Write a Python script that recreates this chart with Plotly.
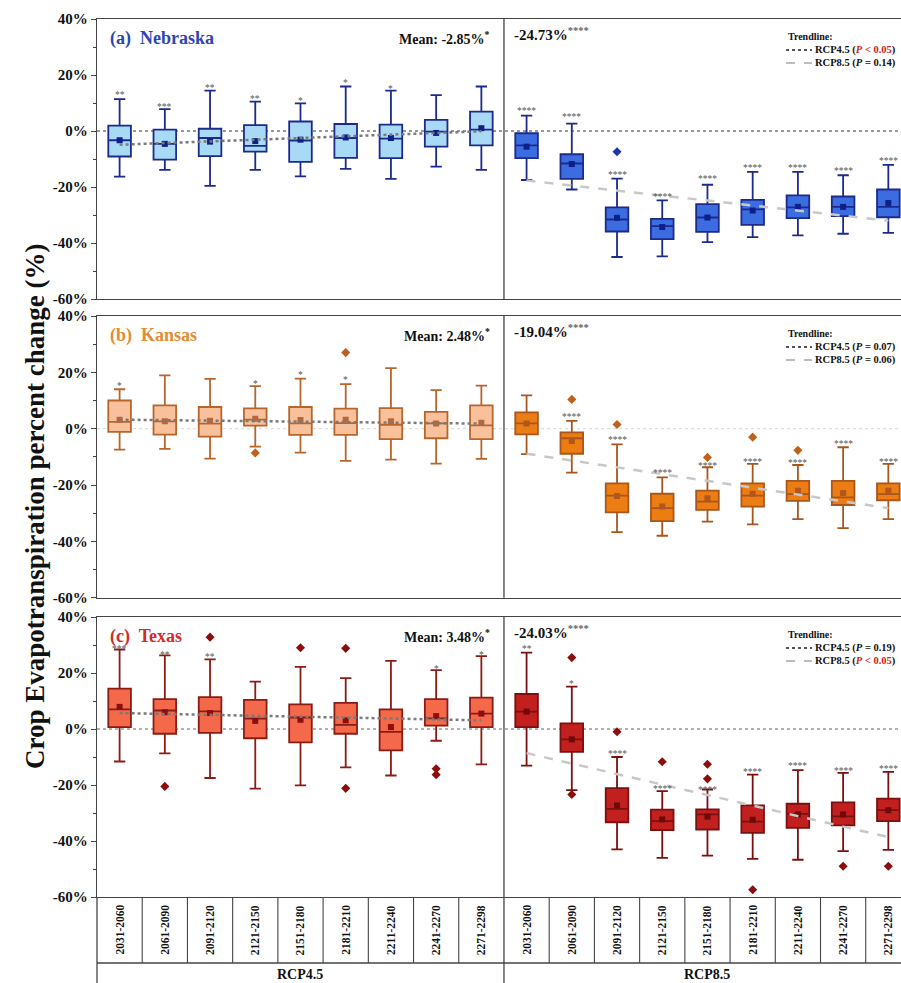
import plotly.graph_objects as go

# ---------------- data ----------------
periods = ["2031-2060", "2061-2090", "2091-2120", "2121-2150", "2151-2180",
           "2181-2210", "2211-2240", "2241-2270", "2271-2298"]
scenarios = ["RCP4.5", "RCP8.5"]
states = ["Nebraska", "Kansas", "Texas"]
panel_tags = ["(a)", "(b)", "(c)"]

# Nebraska (18 boxes: 9 RCP4.5 then 9 RCP8.5)
ne_lower = [-16.3, -13.9, -19.6, -13.9, -16.2, -13.5, -17.1, -12.7, -13.9,
            -17.5, -20.9, -45.0, -44.8, -39.7, -37.9, -37.3, -36.7, -36.4]
ne_q1 = [-9.1, -10.2, -9.0, -7.4, -11.0, -9.6, -9.7, -5.6, -5.1,
         -9.7, -17.1, -35.9, -38.6, -36.0, -33.5, -31.1, -30.4, -30.8]
ne_median = [-3.3, -4.6, -2.5, -5.3, -3.4, -2.5, -2.7, -0.2, 0.5,
             -5.1, -11.6, -31.6, -34.0, -30.9, -28.0, -27.3, -27.1, -27.1]
ne_q3 = [1.9, 0.5, 0.8, 2.1, 3.4, 2.5, 2.3, 4.0, 6.9,
         -0.8, -8.3, -27.3, -31.4, -26.1, -24.6, -23.0, -23.4, -20.9]
ne_upper = [11.4, 7.8, 14.4, 10.5, 9.9, 15.9, 14.4, 12.8, 15.9,
            5.5, 2.6, -17.0, -24.8, -19.2, -14.6, -14.6, -15.8, -12.1]
ne_mean = [-3.3, -4.6, -3.8, -3.6, -3.1, -2.3, -2.5, -0.7, 1.0,
           -5.6, -11.8, -31.0, -34.3, -30.9, -28.4, -27.1, -27.1, -25.7]
ne_stars = ["**", "***", "**", "**", "*", "*", "*", "", "",
            "****", "****", "****", "****", "****", "****", "****", "****", "****"]
ne_star_y = [13.4, 9.4, 16.0, 12.0, 11.3, 17.7, 15.8, None, None,
             7.7, 5.6, -14.9, -22.9, -16.6, -12.6, -12.6, -13.4, -9.9]
ne_out_idx = [11]
ne_out_val = [-7.4]
ne_trend45 = [-4.9, -0.1]
ne_trend85 = [-17.7, -32.0]
ne_mean45 = "-2.85%"
ne_mean85 = "-24.73%"
ne_p45 = "P < 0.05"
ne_p85 = "P = 0.14"

# Kansas
ks_lower = [-7.4, -7.2, -10.6, -6.4, -8.5, -11.4, -11.0, -12.4, -10.7,
            -9.0, -15.6, -36.7, -38.0, -33.0, -34.0, -32.1, -35.3, -32.1]
ks_q1 = [-1.1, -2.1, -2.8, 1.1, -2.2, -2.2, -3.7, -3.4, -3.7,
         -2.0, -8.9, -29.7, -32.8, -28.8, -27.7, -25.6, -27.1, -25.4]
ks_median = [2.4, 2.6, 1.8, 3.2, 1.9, 2.0, 1.4, 1.9, 1.2,
             1.9, -3.4, -23.8, -28.2, -25.9, -23.8, -23.2, -24.4, -23.2]
ks_q3 = [10.0, 8.3, 7.7, 7.2, 7.7, 7.1, 7.3, 6.0, 8.3,
         5.8, -1.3, -19.4, -23.1, -22.0, -19.4, -18.5, -18.5, -19.4]
ks_upper = [14.0, 18.9, 17.7, 15.1, 17.8, 15.8, 21.5, 13.7, 15.3,
            11.8, 2.8, -5.6, -17.3, -13.7, -12.5, -12.9, -6.6, -12.5]
ks_mean = [3.2, 2.6, 2.8, 3.5, 3.1, 3.2, 2.6, 1.8, 2.1,
           1.8, -4.4, -23.9, -27.6, -24.7, -23.1, -22.0, -22.8, -22.0]
ks_stars = ["*", "", "", "*", "*", "*", "", "", "",
            "", "****", "****", "****", "****", "****", "****", "****", "****"]
ks_star_y = [15.9, None, None, 16.6, 19.7, 17.9, None, None, None,
             None, 4.9, -3.2, -14.9, -12.7, -11.1, -11.5, -4.9, -11.0]
ks_out_idx = [3, 5, 10, 11, 13, 14, 15]
ks_out_val = [-8.6, 27.0, 10.4, 1.5, -10.2, -3.0, -7.7]
ks_trend45 = [3.2, 1.8]
ks_trend85 = [-8.9, -28.2]
ks_mean45 = "2.48%"
ks_mean85 = "-19.04%"
ks_p45 = "P = 0.07"
ks_p85 = "P = 0.06"

# Texas
tx_lower = [-11.6, -8.7, -17.5, -21.3, -20.1, -13.7, -16.6, -4.2, -12.6,
            -13.1, -21.8, -43.0, -46.0, -45.2, -46.4, -46.7, -43.6, -43.2]
tx_q1 = [0.7, -1.7, -1.4, -3.3, -4.8, -1.7, -7.6, 1.2, 0.7,
         0.7, -8.2, -33.3, -36.1, -35.9, -37.1, -35.3, -34.4, -32.9]
tx_median = [7.0, 6.6, 6.3, 3.7, 4.1, 1.5, -1.0, 3.8, 5.5,
             6.2, -3.7, -28.5, -32.9, -30.5, -33.1, -30.3, -31.2, -29.0]
tx_q3 = [14.4, 10.7, 11.4, 10.4, 8.8, 9.3, 7.0, 10.7, 11.2,
         12.5, 2.0, -21.1, -28.8, -28.7, -27.3, -26.7, -26.2, -24.9]
tx_upper = [28.4, 26.3, 24.9, 16.9, 22.2, 18.2, 24.3, 21.0, 26.0,
            27.3, 15.1, -10.0, -22.2, -21.6, -16.3, -14.7, -15.7, -15.3]
tx_mean = [7.9, 6.0, 5.7, 2.9, 3.3, 3.1, 0.7, 4.6, 5.5,
           6.2, -3.7, -27.3, -32.3, -31.3, -32.4, -30.5, -30.5, -29.0]
tx_stars = ["***", "**", "**", "", "", "", "", "*", "*",
            "**", "*", "****", "****", "****", "****", "****", "****", "****"]
tx_star_y = [29.2, 27.2, 26.6, None, None, None, None, 22.0, 27.2,
             29.3, 16.8, -8.2, -20.6, -21.0, -14.7, -12.5, -14.2, -13.5]
tx_out_idx = [1, 2, 4, 5, 5, 7, 7, 10, 10, 11, 12, 13, 13, 14, 16, 17]
tx_out_val = [-20.5, 32.8, 29.0, 28.8, -21.2, -14.2, -16.3, 25.5, -23.4,
              -1.0, -11.7, -12.6, -17.8, -57.4, -49.0, -49.0]
tx_trend45 = [5.7, 3.1]
tx_trend85 = [-8.6, -38.6]
tx_mean45 = "3.48%"
tx_mean85 = "-24.03%"
tx_p45 = "P = 0.19"
tx_p85 = "P < 0.05"

y_ticks = [-60, -40, -20, 0, 20, 40]

# ---------------- styles ----------------
SERIF = "Liberation Serif, Times New Roman, serif"
W, H = 901, 983
L, T = 97, 19
PLOT_BOTTOM = 897
PH = PLOT_BOTTOM - T
XR = [-0.5, 17.28]


def py(p):
    return (PLOT_BOTTOM - p) / PH


def px(p):
    return (p - L) / (W - L)


def xp(v):
    return (v - XR[0]) / (XR[1] - XR[0])


panel_px = [(19, 299), (316, 597.7), (617, 897)]
styles = [
    dict(fill=("#a8daf5", "#3c6de0"), line=("#1c2a8c", "#1c2a8c"), mean=("#0d1f8a", "#0d1f8a"),
         out="#1f35a8", title="#2c46b4", zero=("#333333", 1.2)),
    dict(fill=("#f8c19c", "#eb7d12"), line=("#b8652c", "#a9561c"), mean=("#b8663a", "#b0561e"),
         out="#c0601a", title="#e38a33", zero=("#d8d8d8", 1.0)),
    dict(fill=("#f4694a", "#c21f1f"), line=("#8a1c16", "#7c1010"), mean=("#8b0f0f", "#6e0a0a"),
         out="#8b0d0d", title="#d42a2a", zero=("#666666", 1.2)),
]
panels = [
    dict(lower=ne_lower, q1=ne_q1, med=ne_median, q3=ne_q3, upper=ne_upper, mean=ne_mean,
         stars=ne_stars, star_y=ne_star_y, oi=ne_out_idx, ov=ne_out_val,
         t45=ne_trend45, t85=ne_trend85, m45=ne_mean45, m85=ne_mean85, p45=ne_p45, p85=ne_p85),
    dict(lower=ks_lower, q1=ks_q1, med=ks_median, q3=ks_q3, upper=ks_upper, mean=ks_mean,
         stars=ks_stars, star_y=ks_star_y, oi=ks_out_idx, ov=ks_out_val,
         t45=ks_trend45, t85=ks_trend85, m45=ks_mean45, m85=ks_mean85, p45=ks_p45, p85=ks_p85),
    dict(lower=tx_lower, q1=tx_q1, med=tx_median, q3=tx_q3, upper=tx_upper, mean=tx_mean,
         stars=tx_stars, star_y=tx_star_y, oi=tx_out_idx, ov=tx_out_val,
         t45=tx_trend45, t85=tx_trend85, m45=tx_mean45, m85=tx_mean85, p45=tx_p45, p85=tx_p85),
]

n_per = len(periods)
positions = list(range(2 * n_per))

fig = go.Figure()
shapes = []
annotations = []
layout = dict(width=W, height=H, margin=dict(l=L, r=0, t=T, b=H - PLOT_BOTTOM),
              paper_bgcolor="white", plot_bgcolor="white", showlegend=False,
              boxmode="overlay", font=dict(family=SERIF, color="#111"))


def ann(**kw):
    kw.setdefault("showarrow", False)
    kw.setdefault("xanchor", "center")
    kw.setdefault("yanchor", "middle")
    annotations.append(kw)


for i, (d, st) in enumerate(zip(panels, styles)):
    k = "" if i == 0 else str(i + 1)
    xa, ya = "x" + k, "y" + k
    top_px, bot_px = panel_px[i]
    layout["xaxis" + k] = dict(domain=[0, 1], range=XR, anchor=ya, showline=True, mirror=True,
                               linecolor="#444", linewidth=1.3, showticklabels=False, ticks="",
                               showgrid=False, zeroline=False)
    layout["yaxis" + k] = dict(domain=[py(bot_px), py(top_px)], range=[-60, 40], anchor=xa,
                               tickvals=y_ticks, ticktext=[f"{v}%" for v in y_ticks],
                               ticks="outside", ticklen=5, tickcolor="#444", tickwidth=1.3,
                               minor=dict(dtick=10, ticks="outside", ticklen=3, tickcolor="#444"),
                               showline=True, linecolor="#444", linewidth=1.3, mirror=False,
                               showgrid=False, zeroline=False,
                               tickfont=dict(family=SERIF, size=15, weight="bold", color="#111"))
    # zero reference line
    shapes.append(dict(type="line", xref=xa, yref=ya, x0=XR[0], x1=XR[1], y0=0, y1=0,
                       line=dict(color=st["zero"][0], width=st["zero"][1], dash="dot"), layer="below"))
    # divider between scenarios
    shapes.append(dict(type="line", xref=xa, yref=ya + " domain", x0=n_per - 0.5, x1=n_per - 0.5,
                       y0=0, y1=1, line=dict(color="#444", width=1.3)))
    # boxes
    for s in range(2):
        sl = slice(s * n_per, (s + 1) * n_per)
        fig.add_trace(go.Box(x=positions[sl], q1=d["q1"][sl], median=d["med"][sl], q3=d["q3"][sl],
                             lowerfence=d["lower"][sl], upperfence=d["upper"][sl],
                             width=0.5, whiskerwidth=0.5, fillcolor=st["fill"][s],
                             line=dict(color=st["line"][s], width=1.8), boxpoints=False,
                             hoverinfo="skip", xaxis=xa, yaxis=ya, name=scenarios[s]))
        fig.add_trace(go.Scatter(x=positions[sl], y=d["mean"][sl], mode="markers",
                                 marker=dict(symbol="square", size=6, color=st["mean"][s]),
                                 hoverinfo="skip", xaxis=xa, yaxis=ya))
    # outliers
    fig.add_trace(go.Scatter(x=d["oi"], y=d["ov"], mode="markers",
                             marker=dict(symbol="diamond", size=7, color=st["out"]),
                             hoverinfo="skip", xaxis=xa, yaxis=ya))
    # trendlines
    fig.add_trace(go.Scatter(x=[positions[0], positions[n_per - 1]], y=d["t45"], mode="lines",
                             line=dict(color="#7a7a7a", width=2.5, dash="dot"),
                             hoverinfo="skip", xaxis=xa, yaxis=ya))
    fig.add_trace(go.Scatter(x=[positions[n_per], positions[-1]], y=d["t85"], mode="lines",
                             line=dict(color="#c8c8c8", width=2.5, dash="dash"),
                             hoverinfo="skip", xaxis=xa, yaxis=ya))
    # significance stars
    for xi, (txt, yv) in enumerate(zip(d["stars"], d["star_y"])):
        if txt and yv is not None:
            ann(x=positions[xi], y=yv, xref=xa, yref=ya, text=txt, yshift=-2,
                font=dict(family=SERIF, size=9.5, color="#555"))
    # panel title
    ann(x=px(108), y=py(top_px + 19), xref="paper", yref="paper", xanchor="left",
        text=f"{panel_tags[i]}  {states[i]}",
        font=dict(family=SERIF, size=18, color=st["title"], weight="bold"))
    ann(x=px(492), y=py(top_px + 19), xref="paper", yref="paper", xanchor="right",
        text=f"Mean: {d['m45']}<sup>*</sup>",
        font=dict(family=SERIF, size=14, color="#111", weight="bold"))
    ann(x=px(512), y=py(top_px + 15), xref="paper", yref="paper", xanchor="left",
        text=f"{d['m85']}<sup><span style='color:#666'>****</span></sup>",
        font=dict(family=SERIF, size=15, color="#111", weight="bold"))
    # trendline legend
    ann(x=px(786), y=py(top_px + 17), xref="paper", yref="paper", xanchor="left",
        text="Trendline:", font=dict(family=SERIF, size=10, color="#111", weight="bold"))
    for j, (pv, dash, col) in enumerate([(d["p45"], "dot", "#555"), (d["p85"], "dash", "#bdbdbd")]):
        yy = top_px + 31 + 13 * j
        shapes.append(dict(type="line", xref="paper", yref="paper", x0=px(786), x1=px(812),
                           y0=py(yy), y1=py(yy), line=dict(color=col, width=1.8, dash=dash)))
        ptxt = f"<i>P</i>{pv[1:]}"
        if "<" in pv:
            ptxt = f"<span style='color:#d42020'><i>P</i> &lt; {pv.split('<')[1].strip()}</span>"
        ann(x=px(813), y=py(yy), xref="paper", yref="paper", xanchor="left",
            text=f"{scenarios[j]} ({ptxt})",
            font=dict(family=SERIF, size=10.5, color="#111", weight="bold"))

# bottom category table
CELL_BOTTOM = 963
for b in range(1, 2 * n_per):
    shapes.append(dict(type="line", xref="paper", yref="paper", x0=xp(b - 0.5), x1=xp(b - 0.5),
                       y0=py(PLOT_BOTTOM), y1=py(CELL_BOTTOM if b != n_per else H),
                       line=dict(color="#444", width=1.1 if b != n_per else 1.3)))
shapes.append(dict(type="line", xref="paper", yref="paper", x0=0, x1=1, y0=py(CELL_BOTTOM),
                   y1=py(CELL_BOTTOM), line=dict(color="#444", width=1.3)))
shapes.append(dict(type="line", xref="paper", yref="paper", x0=0, x1=0, y0=py(PLOT_BOTTOM),
                   y1=py(H), line=dict(color="#444", width=1.3)))
for xi in positions:
    ann(x=xp(xi), y=py(930), xref="paper", yref="paper",
        text=periods[xi % n_per], textangle=-90,
        font=dict(family=SERIF, size=11.5, color="#111", weight="bold"))
for s in range(2):
    ann(x=xp(s * n_per + (n_per - 1) / 2), y=py(974), xref="paper", yref="paper",
        text=scenarios[s], font=dict(family=SERIF, size=14, color="#111", weight="bold"))

# y-axis title
ann(x=px(35), y=py(506), xref="paper", yref="paper",
    text="Crop Evapotranspiration percent change (%)", textangle=-90,
    font=dict(family=SERIF, size=27, color="#111", weight="bold"))

layout["shapes"] = shapes
layout["annotations"] = annotations
fig.update_layout(**layout)
fig.write_html("out.html")
